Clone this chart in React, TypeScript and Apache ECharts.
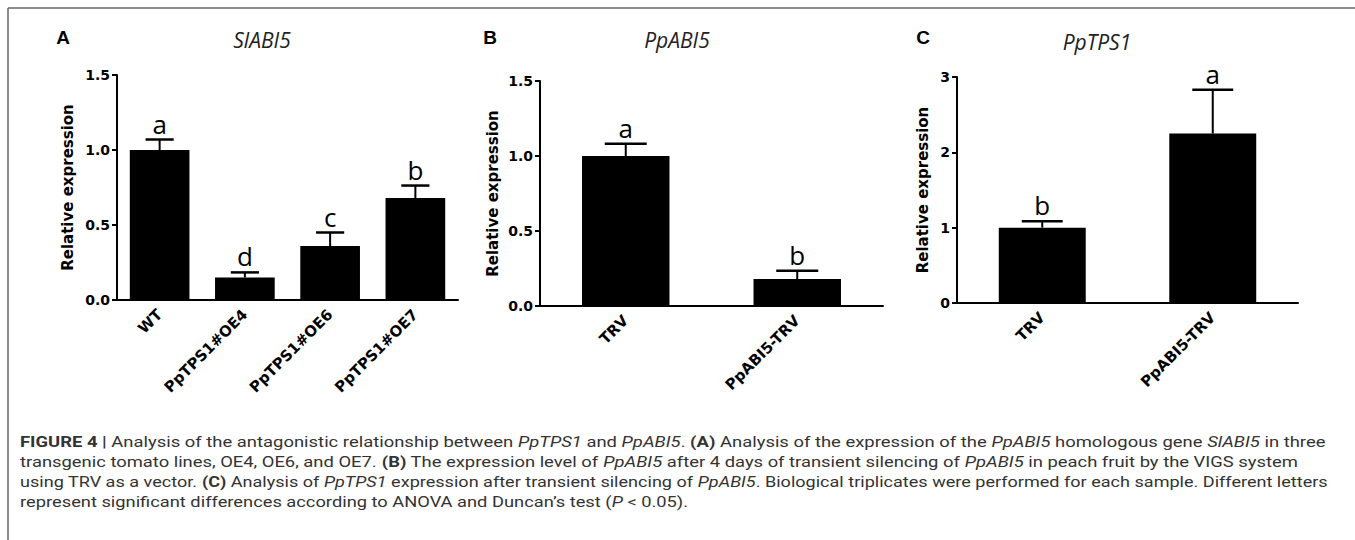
import React, { useEffect, useRef } from 'react';
import * as echarts from 'echarts';

// ---------- data ----------
const catsA = ['WT', 'PpTPS1#OE4', 'PpTPS1#OE6', 'PpTPS1#OE7'];
const valsA = [1.0, 0.15, 0.36, 0.68];
const errA = [0.07, 0.034, 0.09, 0.083];
const letA = ['a', 'd', 'c', 'b'];

const catsB = ['TRV', 'PpABI5-TRV'];
const valsB = [1.0, 0.18];
const errB = [0.082, 0.055];
const letB = ['a', 'b'];

const catsC = ['TRV', 'PpABI5-TRV'];
const valsC = [1.0, 2.25];
const errC = [0.085, 0.58];
const letC = ['b', 'a'];

const ticksAB = ['0.0', '0.5', '1.0', '1.5'];
const ticksC = ['0', '1', '2', '3'];

const titles = ['SlABI5', 'PpABI5', 'PpTPS1'];
const panelLetters = ['A', 'B', 'C'];
const yName = 'Relative expression';

type Seg = [string, string];
const captionLines: Seg[][] = [
  [['b', 'FIGURE 4 |'], ['n', ' Analysis of the antagonistic relationship between '], ['i', 'PpTPS1'], ['n', ' and '], ['i', 'PpABI5'], ['n', '. '], ['b', '(A)'], ['n', ' Analysis of the expression of the '], ['i', 'PpABI5'], ['n', ' homologous gene '], ['i', 'SlABI5'], ['n', ' in three']],
  [['n', 'transgenic tomato lines, OE4, OE6, and OE7. '], ['b', '(B)'], ['n', ' The expression level of '], ['i', 'PpABI5'], ['n', ' after 4 days of transient silencing of '], ['i', 'PpABI5'], ['n', ' in peach fruit by the VIGS system']],
  [['n', 'using TRV as a vector. '], ['b', '(C)'], ['n', ' Analysis of '], ['i', 'PpTPS1'], ['n', ' expression after transient silencing of '], ['i', 'PpABI5'], ['n', '. Biological triplicates were performed for each sample. Different letters']],
  [['n', 'represent significant differences according to ANOVA and Duncan\u2019s test ('], ['i', 'P'], ['n', ' < 0.05).']],
];

// ---------- layout ----------
const grids = [
  { left: 117, top: 75, width: 341, height: 225 },
  { left: 540, top: 81, width: 343, height: 225 },
  { left: 957, top: 77, width: 341, height: 226 },
];
const barWidths = ['70%', '51%', '51%'];
const capFrac = [0.33, 0.245, 0.24];
const nameGaps = [42, 40, 27];
const titlePos = [[262, 40], [677, 40], [1097, 42]];
const letterPos = [[63, 37], [490, 37], [923, 37]];
const captionX = 20;
const captionEnds = [1326, 1298, 1328, 688];

const AXIS_FONT = '"DejaVu Sans", sans-serif';
const CAP_FONT_SIZE = 15;
const CAP_FONT = 'Roboto';

function segFont(s: string) {
  return `${s === 'i' ? 'italic ' : ''}${s === 'b' ? 'bold ' : ''}${CAP_FONT_SIZE}px ${CAP_FONT}`;
}

export default function App() {
  const ref = useRef<HTMLDivElement>(null);
  useEffect(() => {
    if (!ref.current) return;
    const chart = echarts.init(ref.current, undefined, { renderer: 'svg' });

    const cv = document.createElement('canvas');
    const ctx = cv.getContext('2d')!;
    const measure = (line: Seg[]) =>
      line.reduce((acc, [s, t]) => {
        ctx.font = segFont(s);
        return acc + ctx.measureText(t).width;
      }, 0);

    const cats = [catsA, catsB, catsC];
    const vals = [valsA, valsB, valsC];
    const errs = [errA, errB, errC];
    const lets = [letA, letB, letC];
    const ticks = [ticksAB, ticksAB, ticksC];
    const maxes = [1.5, 1.5, 3];
    const intervals = [0.5, 0.5, 1];

    const xAxis = cats.map((c, i) => ({
      type: 'category',
      gridIndex: i,
      data: c,
      boundaryGap: true,
      axisLine: { lineStyle: { color: '#000', width: 2 } },
      axisTick: { alignWithLabel: true, length: 5, lineStyle: { color: '#000', width: 2 } },
      axisLabel: {
        rotate: 45,
        margin: 12,
        color: '#000',
        fontWeight: 'bold',
        fontSize: 15,
        fontFamily: AXIS_FONT,
        interval: 0,
      },
    }));

    const yAxis = ticks.map((t, i) => ({
      type: 'value',
      gridIndex: i,
      min: 0,
      max: maxes[i],
      interval: intervals[i],
      name: yName,
      nameLocation: 'middle',
      nameGap: nameGaps[i],
      nameTextStyle: { color: '#000', fontWeight: 'bold', fontSize: 15, fontFamily: AXIS_FONT },
      splitLine: { show: false },
      axisLine: { show: true, lineStyle: { color: '#000', width: 2 } },
      axisTick: { show: true, length: 5, lineStyle: { color: '#000', width: 2 } },
      axisLabel: {
        margin: 7,
        color: '#000',
        fontWeight: 'bold',
        fontSize: 14,
        fontFamily: AXIS_FONT,
        formatter: (v: number) => {
          const k = Math.round(v / intervals[i]);
          return t[k] ?? '';
        },
      },
    }));

    const series: any[] = [];
    vals.forEach((v, i) => {
      series.push({
        type: 'bar',
        xAxisIndex: i,
        yAxisIndex: i,
        data: v,
        barWidth: barWidths[i],
        itemStyle: { color: '#000' },
        z: 2,
      });
      series.push({
        type: 'custom',
        xAxisIndex: i,
        yAxisIndex: i,
        z: 3,
        data: v.map((val, j) => [j, val, errs[i][j]]),
        renderItem: (params: any, api: any) => {
          const j = api.value(0);
          const val = api.value(1);
          const e = api.value(2);
          const base = api.coord([j, val]);
          const top = api.coord([j, val + e]);
          const band = api.size([1, 0])[0];
          const half = (band * capFrac[i]) / 2;
          return {
            type: 'group',
            children: [
              { type: 'line', shape: { x1: base[0], y1: base[1], x2: top[0], y2: top[1] }, style: { stroke: '#000', lineWidth: 2 } },
              { type: 'line', shape: { x1: top[0] - half, y1: top[1], x2: top[0] + half, y2: top[1] }, style: { stroke: '#000', lineWidth: 2.5 } },
              {
                type: 'text',
                x: top[0],
                y: top[1] - 3,
                style: {
                  text: lets[i][j],
                  fill: '#000',
                  fontSize: 26,
                  fontFamily: '"Open Sans", sans-serif',
                  align: 'center',
                  verticalAlign: 'bottom',
                },
              },
            ],
          };
        },
      });
    });

    const graphics: any[] = [
      { type: 'line', shape: { x1: 8, y1: 8, x2: 1355, y2: 8 }, style: { stroke: '#666', lineWidth: 1.5 } },
      { type: 'line', shape: { x1: 8, y1: 8, x2: 8, y2: 540 }, style: { stroke: '#666', lineWidth: 1.5 } },
    ];
    titles.forEach((t, i) => {
      graphics.push({
        type: 'text',
        x: titlePos[i][0],
        y: titlePos[i][1],
        style: { text: t, fill: '#222', fontSize: 21, fontStyle: 'italic', fontFamily: '"Open Sans", sans-serif', align: 'center', verticalAlign: 'middle' },
      });
    });
    panelLetters.forEach((t, i) => {
      graphics.push({
        type: 'text',
        x: letterPos[i][0],
        y: letterPos[i][1],
        style: { text: t, fill: '#000', fontSize: 19, fontWeight: 'bold', fontFamily: '"Liberation Sans", Arial, sans-serif', align: 'center', verticalAlign: 'middle' },
      });
    });
    captionLines.forEach((line, k) => {
      const txt = line.map(([s, t]) => `{${s}|${t}}`).join('');
      const w = measure(line);
      const sc = w > 0 ? (captionEnds[k] - captionX) / w : 1;
      graphics.push({
        type: 'text',
        x: captionX,
        y: 442 + k * 20,
        scaleX: sc,
        style: {
          text: txt,
          fill: '#333',
          fontSize: CAP_FONT_SIZE,
          fontFamily: CAP_FONT,
          align: 'left',
          verticalAlign: 'middle',
          rich: {
            n: { fontSize: CAP_FONT_SIZE, fontFamily: CAP_FONT, fill: '#333' },
            b: { fontSize: CAP_FONT_SIZE, fontFamily: CAP_FONT, fontWeight: 'bold', fill: '#333' },
            i: { fontSize: CAP_FONT_SIZE, fontFamily: CAP_FONT, fontStyle: 'italic', fill: '#333' },
          },
        },
      });
    });

    chart.setOption({
      animation: false,
      backgroundColor: '#fff',
      grid: grids.map((g) => ({ ...g, containLabel: false })),
      xAxis,
      yAxis,
      series,
      graphic: graphics,
    });
    return () => chart.dispose();
  }, []);
  return <div ref={ref} style={{ position: 'absolute', left: 0, top: 0, width: 1355, height: 540 }} />;
}
